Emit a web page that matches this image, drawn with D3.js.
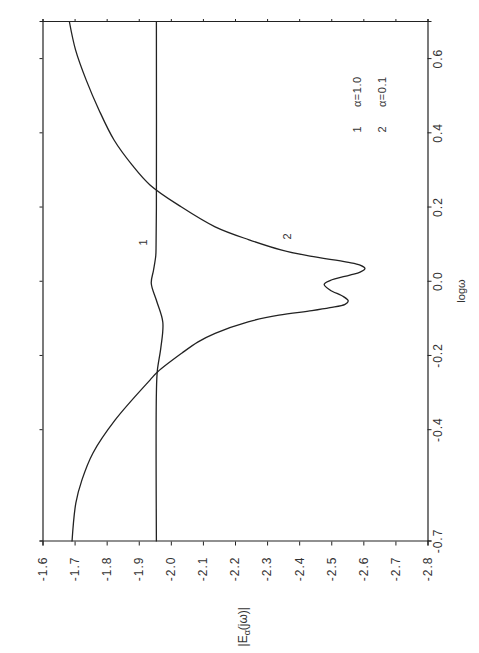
<!DOCTYPE html>
<html>
<head>
<meta charset="utf-8">
<script src="https://cdn.jsdelivr.net/npm/d3@7"></script>
<style>
  body { margin: 0; background: #fff; }
  text { font-family: "Liberation Sans", Arial, sans-serif; fill: #333; }
</style>
</head>
<body>
<div id="chart"></div>
<script>
// curve 1 : alpha = 1.0
const logw1 = [0.70, 0.20, 0.10, 0.07, 0.031, -0.004, -0.05, -0.109, -0.177, -0.239, -0.30, -0.70];
const mag1  = [-1.955, -1.955, -1.954, -1.953, -1.946, -1.939, -1.955, -1.975, -1.969, -1.958, -1.955, -1.955];

// curve 2 : alpha = 0.1
const logw2 = [0.700, 0.625, 0.544, 0.463, 0.382, 0.315, 0.261, 0.202, 0.148, 0.113, 0.086, 0.069,
  0.053, 0.045, 0.036, 0.026, 0.018, 0.003, -0.007, -0.022, -0.040, -0.052, -0.061, -0.070, -0.078,
  -0.090, -0.108, -0.139, -0.162, -0.192, -0.242, -0.265, -0.373, -0.462, -0.534, -0.596, -0.700];
const mag2  = [-1.684, -1.703, -1.736, -1.776, -1.823, -1.879, -1.935, -2.032, -2.138, -2.244, -2.343, -2.434,
  -2.549, -2.590, -2.605, -2.590, -2.558, -2.496, -2.478, -2.496, -2.538, -2.553, -2.543, -2.496, -2.440,
  -2.337, -2.241, -2.138, -2.085, -2.035, -1.960, -1.935, -1.826, -1.757, -1.723, -1.704, -1.692];

const xTicks = [-0.7, -0.4, -0.2, 0.0, 0.2, 0.4, 0.6];
const yTicks = [-1.6, -1.7, -1.8, -1.9, -2.0, -2.1, -2.2, -2.3, -2.4, -2.5, -2.6, -2.7, -2.8];
const legendNums = ["1", "2"];
const legendText = ["\u03b1=1.0", "\u03b1=0.1"];

const width = 479, height = 653;
// the plot is drawn landscape, then turned a quarter left
const W = 519.5, H = 385;

const svg = d3.select("#chart").append("svg")
  .attr("width", width)
  .attr("height", height);

const g = svg.append("g")
  .attr("transform", "translate(42.5,541.5) rotate(-90)");

const x = d3.scaleLinear().domain([-0.7, 0.7]).range([0, W]);
const y = d3.scaleLinear().domain([-1.6, -2.8]).range([0, H]);

const fmt = d => d.toFixed(1);

g.append("g")
  .attr("transform", `translate(0,${H})`)
  .call(d3.axisBottom(x).tickValues(xTicks).tickSize(4).tickPadding(2).tickFormat(fmt));
g.append("g")
  .call(d3.axisLeft(y).tickValues(yTicks).tickSize(4).tickPadding(11).tickFormat(fmt));
g.append("g")
  .call(d3.axisTop(x).tickValues(xTicks).tickSize(3).tickFormat(""));
g.append("g")
  .attr("transform", `translate(${W},0)`)
  .call(d3.axisRight(y).tickValues(yTicks).tickSize(3).tickFormat(""));

g.selectAll(".domain").attr("stroke", "#222").attr("stroke-width", 1.2);
g.selectAll(".tick line").attr("stroke", "#222").attr("stroke-width", 1);
g.selectAll(".tick text")
  .style("font-size", "12px")
  .style("letter-spacing", "1px")
  .style("font-family", "'Liberation Sans', Arial, sans-serif")
  .attr("fill", "#333");

const line = d3.line()
  .x(d => x(d[0]))
  .y(d => y(d[1]))
  .curve(d3.curveCatmullRom.alpha(0.5));

g.append("path")
  .datum(d3.zip(logw1, mag1))
  .attr("d", line)
  .attr("fill", "none")
  .attr("stroke", "#222")
  .attr("stroke-width", 1.3);

g.append("path")
  .datum(d3.zip(logw2, mag2))
  .attr("d", line)
  .attr("fill", "none")
  .attr("stroke", "#222")
  .attr("stroke-width", 1.3);

// curve labels
g.append("text").attr("x", 299).attr("y", 104)
  .attr("text-anchor", "middle").style("font-size", "11px").text("1");
g.append("text").attr("x", 305).attr("y", 248)
  .attr("text-anchor", "middle").style("font-size", "11px").text("2");

// legend
legendNums.forEach((n, i) => {
  g.append("text").attr("x", 412).attr("y", 318.5 + i * 25)
    .attr("text-anchor", "middle").style("font-size", "11px").text(n);
  g.append("text").attr("x", 434.5).attr("y", 318.5 + i * 25)
    .style("font-size", "11px").style("letter-spacing", "0.5px").text(legendText[i]);
});

// axis titles
g.append("text").attr("x", 250.5).attr("y", 422.5)
  .attr("text-anchor", "middle").style("font-size", "11px").text("log\u03c9");

const yl = g.append("text").attr("x", -65.5).attr("y", 204)
  .attr("text-anchor", "end").style("font-size", "12px");
yl.append("tspan").text("|E");
yl.append("tspan").attr("dy", 3).style("font-size", "9px").text("\u03b1");
yl.append("tspan").attr("dy", -3).text("(j\u03c9)|");
</script>
</body>
</html>
